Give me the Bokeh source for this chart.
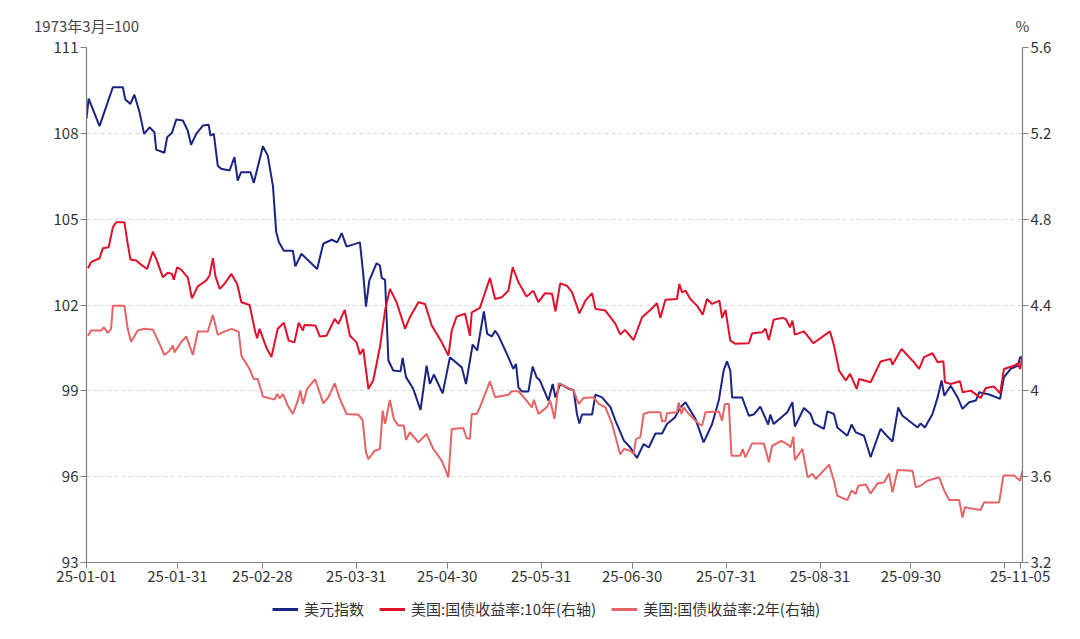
from datetime import datetime, timedelta
from bokeh.plotting import figure
from bokeh.layouts import column
from bokeh.models import (Range1d, LinearAxis, FixedTicker, Legend, LegendItem,
                          CustomJSTickFormatter)
from bokeh.embed import file_html
from bokeh.resources import INLINE

# ---------------- data (days after 2025-01-01, values) ----------------
dxy_days = [0, 0.7, 4.3, 7, 8.7, 12, 12.8, 14.5, 15.8, 17.5, 19, 20.8, 22.4, 23, 25.7, 26.6, 28.2, 29.6,
            31.8, 33.4, 34.5, 36.2, 38.4, 40.3, 40.9, 42, 43.3, 44.4, 47.2, 48.8, 49.9, 51, 54.1, 55.2,
            58.2, 59.8, 61.5, 62.6, 63.5, 65.1, 68.1, 68.9, 70.9, 76.1, 78.1, 80.9, 82.7, 84.2, 85.8,
            90.2, 91.3, 92.2, 93.3, 95.7, 96.8, 97.4, 98.5, 99.6, 101.2, 103.6, 104.3, 105.4, 107.8,
            110.2, 112.2, 113.3, 114.6, 117.5, 119.9, 123.8, 125.2, 127.4, 128.9, 131.1, 132.2, 133.7,
            134.8, 135.9, 139.2, 140.8, 141.7, 142.5, 143.6, 145.8, 147.2, 148.5, 149.6, 152.4, 153.8,
            154.7, 156.3, 159.1, 160.7, 161.8, 162.6, 163.5, 166.8, 167.9, 170.1, 172.9, 174.5, 177.3,
            179.4, 181.6, 183.8, 185.5, 187.7, 189.9, 191.5, 194.1, 195.9, 197.6, 200.9, 203.6, 206.4,
            208.6, 210.2, 211.3, 212.4, 213, 216.3, 218.5, 220.1, 222.3, 224.9, 225.6, 226.7, 229.2,
            231.2, 232.9, 233.7, 236.7, 238.9, 240, 243.3, 244.4, 246.6, 247.7, 251, 252.4, 253.8,
            256.5, 258.7, 259.8, 262, 264, 265.9, 267.8, 269.2, 272.5, 274.2, 275.2, 276.6, 279.1,
            280.8, 282.1, 283, 285.1, 287.4, 289, 291.2, 293.4, 294.5, 297.8, 301.4, 302.7, 304.9,
            307.3, 308, 308.8]
dxy_vals = [108.51, 109.21, 108.25, 109.09, 109.61, 109.61, 109.18, 109.03, 109.35, 108.74, 107.98,
            108.21, 108.04, 107.43, 107.32, 107.86, 108.02, 108.48, 108.45, 108.10, 107.6, 107.98,
            108.27, 108.3, 107.92, 107.98, 106.87, 106.76, 106.70, 107.17, 106.35, 106.64, 106.64,
            106.27, 107.55, 107.22, 106.17, 104.54, 104.19, 103.9, 103.9, 103.35, 103.79, 103.26,
            104.14, 104.28, 104.19, 104.51, 104.04, 104.19, 103.09, 101.94, 102.85, 103.46, 103.38,
            102.95, 102.88, 100.06, 99.71, 99.68, 100.15, 99.48, 99.07, 98.33, 99.88, 99.24, 99.57,
            98.91, 100.17, 99.82, 99.24, 100.62, 100.41, 101.78, 100.99, 100.9, 101.1, 100.93, 100.17,
            99.77, 99.94, 99.12, 98.98, 98.98, 99.85, 99.47, 99.36, 98.66, 99.24, 98.77, 99.24, 99.07,
            99.03, 98.19, 97.86, 98.17, 98.17, 98.87, 98.77, 98.42, 97.96, 97.26, 97.02, 96.65, 97.14,
            97.02, 97.51, 97.51, 97.84, 98.07, 98.42, 98.6, 98.02, 97.2, 97.84, 98.66, 99.71, 100.03,
            99.71, 98.77, 98.77, 98.13, 98.17, 98.45, 97.82, 98.17, 97.84, 98.07, 98.25, 98.6, 97.75,
            98.4, 98.19, 97.86, 97.67, 98.28, 98.19, 97.72, 97.43, 97.82, 97.55, 97.43, 96.68, 97.02,
            97.67, 97.43, 97.23, 98.42, 98.13, 97.86, 97.72, 97.86, 97.72, 98.19, 98.77, 99.36, 98.83,
            99.18, 98.77, 98.37, 98.6, 98.66, 98.95, 98.87, 98.72, 99.48, 99.77, 99.88, 100.17, 100.17]

y10_days = [0.5, 1.5, 4.3, 5.4, 7.3, 8.7, 9.8, 12.5, 13.6, 14.5, 16.4, 18.1, 20.0, 21.9, 23.0, 25.2,
            26.8, 28.2, 28.8, 29.9, 31.2, 33.4, 34.8, 36.7, 39.5, 40.6, 41.7, 42.5, 43.9, 45.5, 47.8,
            49.7, 51.1, 53.8, 55.7, 56.3, 57.1, 59.3, 61.0, 63.1, 65.1, 66.7, 68.6, 70.0, 71.4, 71.9,
            75.5, 77.0, 79.2, 81.9, 83.1, 85.2, 86.9, 89.1, 90.2, 91.3, 93.0, 94.6, 96.8, 98.5, 100.1,
            102.3, 105.1, 106.7, 109.5, 111.7, 113.9, 117.2, 119.4, 120.5, 122.1, 124.9, 126.5, 127.1,
            129.8, 133.1, 134.8, 137.0, 139.2, 140.6, 142.5, 145.2, 147.4, 149.1, 151.3, 153.6, 154.7,
            156.3, 158.5, 160.2, 162.6, 164.6, 166.8, 167.9, 171.2, 174.5, 176.1, 177.6, 180.5, 183.3,
            186.0, 188.2, 189.3, 191.0, 194.8, 195.6, 196.5, 197.6, 199.2, 201.4, 203.3, 204.7, 206.4,
            208.8, 209.7, 210.8, 212.4, 214.1, 218.5, 219.6, 222.9, 224.0, 225.1, 226.7, 229.5, 230.7,
            232.1, 232.9, 233.7, 236.7, 239.8, 245.3, 246.6, 248.3, 250.5, 251.9, 254.1, 254.9, 258.7,
            262.0, 265.3, 265.9, 268.9, 271.4, 273.0, 274.7, 276.3, 279.1, 280.8, 282.7, 283.2, 285.1,
            288.2, 289.0, 291.7, 295.0, 296.7, 299.4, 301.4, 302.7, 306.0, 307.2, 308.0, 308.8]
y10_vals = [4.571, 4.600, 4.618, 4.664, 4.669, 4.762, 4.786, 4.786, 4.685, 4.612, 4.607, 4.587, 4.568,
            4.649, 4.615, 4.529, 4.550, 4.545, 4.518, 4.576, 4.565, 4.529, 4.431, 4.487, 4.514, 4.537,
            4.618, 4.537, 4.475, 4.498, 4.545, 4.498, 4.413, 4.400, 4.273, 4.245, 4.289, 4.203, 4.157,
            4.289, 4.317, 4.234, 4.226, 4.317, 4.281, 4.307, 4.305, 4.253, 4.257, 4.335, 4.312, 4.377,
            4.257, 4.226, 4.169, 4.195, 4.009, 4.048, 4.203, 4.374, 4.475, 4.413, 4.289, 4.343, 4.413,
            4.405, 4.304, 4.226, 4.164, 4.281, 4.346, 4.359, 4.257, 4.366, 4.387, 4.526, 4.428, 4.436,
            4.467, 4.576, 4.506, 4.439, 4.467, 4.413, 4.455, 4.452, 4.371, 4.501, 4.490, 4.459, 4.361,
            4.420, 4.455, 4.382, 4.374, 4.312, 4.262, 4.284, 4.237, 4.343, 4.377, 4.408, 4.340, 4.424,
            4.428, 4.498, 4.459, 4.467, 4.428, 4.397, 4.355, 4.428, 4.405, 4.420, 4.340, 4.377, 4.234,
            4.219, 4.222, 4.268, 4.273, 4.289, 4.237, 4.331, 4.340, 4.335, 4.296, 4.327, 4.262, 4.277,
            4.222, 4.277, 4.211, 4.094, 4.048, 4.079, 4.009, 4.055, 4.040, 4.137, 4.149, 4.122, 4.195,
            4.157, 4.133, 4.102, 4.157, 4.175, 4.133, 4.138, 4.040, 4.032, 4.045, 3.993, 4.001, 3.967,
            4.013, 4.020, 3.988, 4.102, 4.117, 4.128, 4.102, 4.164]

y2_days = [0.5, 1.5, 4.8, 5.7, 7.0, 8.1, 8.7, 12.5, 13.6, 14.7, 16.9, 19.1, 21.9, 24.1, 25.7, 27.4,
           28.5, 29.0, 31.2, 32.9, 35.1, 36.7, 40.0, 41.7, 43.3, 45.5, 47.8, 50.2, 51.1, 53.8, 55.2,
           56.5, 58.2, 62.0, 62.9, 63.7, 64.8, 66.4, 68.1, 69.7, 70.6, 71.4, 72.8, 75.4, 78.1, 79.8,
           81.9, 83.6, 85.8, 89.7, 91.1, 92.2, 93.0, 95.1, 96.8, 97.7, 98.5, 100.1, 101.4, 102.9,
           104.7, 105.4, 106.7, 109.5, 112.2, 114.4, 117.2, 119.4, 120.5, 124.3, 125.4, 126.5, 127.1,
           128.7, 129.8, 133.1, 134.8, 139.2, 140.3, 142.5, 145.2, 146.9, 147.6, 149.1, 151.8, 153.0,
           154.4, 155.8, 157.4, 160.7, 162.4, 164.0, 167.3, 169.0, 171.2, 173.4, 175.0, 176.1, 177.3,
           179.4, 180.5, 181.3, 182.7, 183.8, 185.5, 189.3, 189.9, 191.0, 191.5, 194.8, 195.4, 196.3,
           197.0, 198.7, 202.0, 203.1, 204.2, 208.6, 209.7, 210.6, 211.9, 212.8, 215.7, 216.5, 217.4,
           219.6, 223.4, 224.2, 225.1, 226.2, 229.2, 231.2, 232.3, 233.2, 233.7, 236.2, 237.9, 239.5,
           240.6, 245.0, 246.6, 247.7, 251.0, 252.4, 253.8, 254.6, 257.1, 258.7, 261.0, 263.1, 264.8,
           265.9, 267.6, 272.5, 273.6, 275.2, 277.4, 281.3, 283.0, 284.6, 287.9, 289.0, 289.8, 292.8,
           295.0, 296.1, 301.1, 302.5, 306.0, 308.0, 308.8]
y2_vals = [4.257, 4.281, 4.281, 4.296, 4.270, 4.289, 4.397, 4.397, 4.289, 4.229, 4.281, 4.289, 4.285,
           4.219, 4.167, 4.187, 4.211, 4.179, 4.226, 4.254, 4.167, 4.276, 4.276, 4.354, 4.261, 4.276,
           4.289, 4.276, 4.164, 4.102, 4.055, 4.055, 3.974, 3.959, 3.985, 3.965, 3.985, 3.931, 3.892,
           3.954, 4.001, 3.939, 4.009, 4.055, 3.942, 3.970, 4.035, 3.962, 3.892, 3.889, 3.864, 3.713,
           3.682, 3.721, 3.729, 3.908, 3.846, 3.957, 3.869, 3.838, 3.838, 3.771, 3.807, 3.760, 3.799,
           3.729, 3.675, 3.597, 3.822, 3.827, 3.780, 3.776, 3.892, 3.892, 3.923, 4.044, 3.970, 3.982,
           3.998, 3.998, 3.954, 3.923, 3.958, 3.892, 3.923, 3.954, 3.869, 4.035, 4.024, 4.001, 3.939,
           3.967, 3.970, 3.939, 3.923, 3.846, 3.760, 3.703, 3.729, 3.721, 3.706, 3.776, 3.783, 3.892,
           3.900, 3.900, 3.858, 3.858, 3.895, 3.900, 3.946, 3.892, 3.923, 3.892, 3.846, 3.838, 3.900,
           3.904, 3.861, 3.939, 3.939, 3.698, 3.698, 3.729, 3.690, 3.755, 3.755, 3.718, 3.667, 3.744,
           3.767, 3.752, 3.737, 3.786, 3.678, 3.729, 3.597, 3.613, 3.589, 3.656, 3.581, 3.511, 3.491,
           3.535, 3.519, 3.558, 3.563, 3.522, 3.569, 3.573, 3.615, 3.527, 3.631, 3.628, 3.550, 3.558,
           3.581, 3.597, 3.535, 3.491, 3.491, 3.410, 3.457, 3.449, 3.445, 3.480, 3.480, 3.605, 3.605,
           3.581, 3.628]

names = ["美元指数", "美国:国债收益率:10年(右轴)", "美国:国债收益率:2年(右轴)"]
colors = ["#1b2483", "#e0102a", "#e56466"]

x_tick_dates = ["2025-01-01", "2025-01-31", "2025-02-28", "2025-03-31", "2025-04-30", "2025-05-31",
                "2025-06-30", "2025-07-31", "2025-08-31", "2025-09-30", "2025-10-31", "2025-11-05"]
x_tick_labels = ["25-01-01", "25-01-31", "25-02-28", "25-03-31", "25-04-30", "25-05-31",
                 "25-06-30", "25-07-31", "25-08-31", "25-09-30", "", "25-11-05"]
left_ticks = [93, 96, 99, 102, 105, 108, 111]
right_ticks = [3.2, 3.6, 4.0, 4.4, 4.8, 5.2, 5.6]
unit_labels = ["1973年3月=100", "%"]

# ---------------- figure ----------------
FONT = "Noto Sans CJK SC"
FS = "15px"
base = datetime(2025, 1, 1)
EPOCH = datetime(1970, 1, 1)
X_END_DAYS = 308.8


def to_dt(days):
    return [base + timedelta(days=d) for d in days]


def ms(d):
    return (d - EPOCH).total_seconds() * 1000.0


W = 1064
H1 = 594          # main chart
H2 = 29           # legend strip below
FL, FR, FT, FB = 86, 1022, 47, 562   # frame edges in pixels
LEGEND_X = 272

x_start = base
x_end = base + timedelta(days=X_END_DAYS)

p = figure(width=W, height=H1, x_axis_type="datetime", output_backend="svg",
           toolbar_location=None,
           x_range=Range1d(x_start, x_end),
           y_range=Range1d(left_ticks[0], left_ticks[-1]),
           min_border_left=FL, min_border_right=W - FR, min_border_top=FT,
           min_border_bottom=H1 - FB)
p.extra_y_ranges = {"y2": Range1d(right_ticks[0], right_ticks[-1])}
p.outline_line_color = None
p.background_fill_color = "white"

r1 = p.line(to_dt(dxy_days), dxy_vals, line_color=colors[0], line_width=2)
r2 = p.line(to_dt(y10_days), y10_vals, line_color=colors[1], line_width=2, y_range_name="y2")
r3 = p.line(to_dt(y2_days), y2_vals, line_color=colors[2], line_width=2, y_range_name="y2")

NEAREST = """
let best = 0;
for (let i = 0; i < pos.length; i++) {
  if (Math.abs(pos[i] - tick) < Math.abs(pos[best] - tick)) { best = i; }
}
return labels[best];
"""

# right axis
yr = LinearAxis(y_range_name="y2", ticker=FixedTicker(ticks=right_ticks),
                formatter=CustomJSTickFormatter(code="return String(parseFloat(tick.toFixed(1)));"))
p.add_layout(yr, "right")

# left axis
p.yaxis[0].ticker = FixedTicker(ticks=left_ticks)

# bottom axis
xt = [ms(datetime.strptime(d, "%Y-%m-%d")) for d in x_tick_dates]
p.xaxis[0].ticker = FixedTicker(ticks=xt)
p.xaxis[0].formatter = CustomJSTickFormatter(args=dict(pos=xt, labels=x_tick_labels), code=NEAREST)

for ax in [p.xaxis[0], p.yaxis[0], yr]:
    ax.axis_line_color = "#7f7f7f"
    ax.axis_line_width = 1.2
    ax.major_tick_line_color = "#7f7f7f"
    ax.major_tick_in = 0
    ax.major_tick_out = 6
    ax.minor_tick_line_color = None
    ax.major_label_text_font = FONT
    ax.major_label_text_font_size = FS
    ax.major_label_text_color = "#333333"
    ax.major_label_standoff = 2

# unit texts above the two y axes (as labels of an invisible top axis)
top_pos = [ms(x_start) + 60000.0, ms(x_end) - 60000.0]
top_ax = LinearAxis(ticker=FixedTicker(ticks=top_pos),
                    formatter=CustomJSTickFormatter(args=dict(pos=top_pos, labels=unit_labels),
                                                    code=NEAREST))
top_ax.axis_line_color = None
top_ax.major_tick_line_color = None
top_ax.minor_tick_line_color = None
top_ax.major_tick_out = 0
top_ax.major_tick_in = 0
top_ax.major_label_standoff = 12
top_ax.major_label_text_font = FONT
top_ax.major_label_text_font_size = FS
top_ax.major_label_text_color = "#444444"
p.add_layout(top_ax, "above")

p.xgrid.visible = False
p.ygrid.grid_line_color = "#d9d9d9"
p.ygrid.grid_line_dash = "4 3"
p.ygrid.ticker = FixedTicker(ticks=left_ticks)

# ---------------- legend strip (its own small figure) ----------------
q = figure(width=W, height=H2, output_backend="svg", toolbar_location=None,
           x_axis_location=None, y_axis_location=None,
           x_range=Range1d(0, 1), y_range=Range1d(0, 1), min_border=0)
q.outline_line_color = None
q.grid.visible = False
# legend handles: one off-range point each, so the line visuals exist but nothing is drawn
k1 = q.line(x=[-5], y=[-5], line_color=colors[0], line_width=3)
k2 = q.line(x=[-5], y=[-5], line_color=colors[1], line_width=3)
k3 = q.line(x=[-5], y=[-5], line_color=colors[2], line_width=3)
legend = Legend(items=[LegendItem(label=names[0], renderers=[k1]),
                       LegendItem(label=names[1], renderers=[k2]),
                       LegendItem(label=names[2], renderers=[k3])],
                orientation="horizontal", location=(LEGEND_X - FL, 4),
                label_text_font=FONT, label_text_font_size=FS, label_text_color="#333333",
                glyph_width=26, glyph_height=20, label_height=20, label_standoff=6, spacing=15,
                padding=0, margin=0, border_line_color=None, background_fill_alpha=0)
q.add_layout(legend)

open("out.html", "w").write(file_html(column(p, q, spacing=0), INLINE))
